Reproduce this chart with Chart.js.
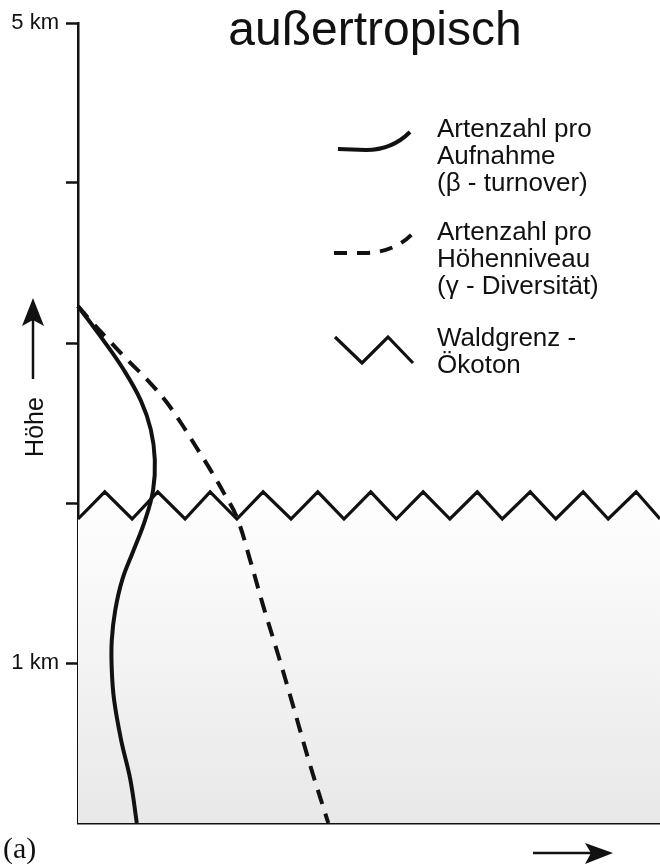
<!DOCTYPE html>
<html lang="de">
<head>
    <meta charset="UTF-8">
    <title>außertropisch</title>
    <script src="https://cdn.jsdelivr.net/npm/chart.js@4"></script>
    <style>
        * { margin: 0; padding: 0; }
        body { background: #fff; }
    </style>
</head>
<body>
<div style="position: relative; width: 660px; height: 868px"><canvas id="myChart" width="660" height="868"></canvas></div>
<script>
    // Höhe in km (y) und relative Artenzahl (x, 0..100)
    var betaHeight  = [3.23, 3.02, 2.83, 2.64, 2.46, 2.27, 2.08, 1.89, 1.70, 1.52, 1.33, 1.14, 0.96, 0.77, 0.52, 0.27, 0];
    var betaSpecies = [0, 4.3, 7.9, 10.8, 12.5, 13.2, 12.9, 11.5, 9.5, 7.6, 6.4, 5.8, 5.8, 6.2, 7.4, 9.0, 10.1];

    var gammaHeight  = [3.23, 3.13, 3.01, 2.89, 2.77, 2.64, 2.50, 2.35, 2.21, 2.06, 1.91, 1.64, 1.36, 1.05, 0.74, 0.36, 0];
    var gammaSpecies = [0, 2.4, 5.5, 8.6, 11.9, 15.0, 17.7, 20.3, 22.7, 25.1, 27.3, 29.6, 31.8, 34.4, 36.9, 39.9, 43.0];

    // Waldgrenz-Ökoton (Zickzack)
    var ecotoneX = [0, 4.6, 9.3, 13.7, 18.4, 22.7, 27.3, 31.8, 36.6, 41.2, 45.7, 50.3,
                    54.7, 59.3, 63.9, 68.6, 72.9, 77.7, 82.1, 86.8, 91.1, 95.9, 100];
    var ecotoneY = [1.9, 2.07, 1.9, 2.07, 1.9, 2.07, 1.9, 2.07, 1.9, 2.07, 1.9, 2.07,
                    1.9, 2.07, 1.9, 2.07, 1.9, 2.07, 1.9, 2.07, 1.9, 2.07, 1.9];

    var heightTicks  = [0, 1, 2, 3, 4, 5];
    var heightLabels = ['', '1 km', '', '', '', '5 km'];

    var titleText = 'außertropisch';
    var legendTexts = [
        ['Artenzahl pro', 'Aufnahme', '(β - turnover)'],
        ['Artenzahl pro', 'Höhenniveau', '(γ - Diversität)'],
        ['Waldgrenz -', 'Ökoton']
    ];

    function toPoints(xs, ys) {
        var pts = [];
        for (var i = 0; i < xs.length; i++) {
            pts.push({x: xs[i], y: ys[i]});
        }
        return pts;
    }

    var SANS = '"Liberation Sans", Arial, Helvetica, sans-serif';

    // Titel, Legende, Pfeile
    var decoPlugin = {
        id: 'deco',
        afterDraw: function (chart) {
            var c = chart.ctx;
            c.save();
            c.fillStyle = '#111';
            c.strokeStyle = '#111';

            c.font = '48px ' + SANS;
            c.textAlign = 'center';
            c.textBaseline = 'alphabetic';
            c.fillText(titleText, 375, 45);

            c.font = '26px ' + SANS;
            c.textAlign = 'left';
            var baselines = [[137, 164, 191], [240, 267, 294], [346, 373]];
            for (var g = 0; g < legendTexts.length; g++) {
                for (var l = 0; l < legendTexts[g].length; l++) {
                    c.fillText(legendTexts[g][l], 437, baselines[g][l]);
                }
            }

            c.lineCap = 'butt';
            c.lineJoin = 'miter';
            // Symbol: durchgezogen
            c.lineWidth = 4;
            c.beginPath();
            c.moveTo(338, 149);
            c.lineTo(366, 150);
            c.quadraticCurveTo(392, 150, 410, 132);
            c.stroke();
            // Symbol: gestrichelt
            c.setLineDash([13, 10]);
            c.beginPath();
            c.moveTo(334, 253);
            c.lineTo(366, 253);
            c.quadraticCurveTo(396, 252, 414, 232);
            c.stroke();
            c.setLineDash([]);
            // Symbol: Zickzack
            c.lineWidth = 3.2;
            c.beginPath();
            c.moveTo(335, 337);
            c.lineTo(362, 363);
            c.lineTo(388, 337);
            c.lineTo(413, 363);
            c.stroke();

            // Höhe mit Pfeil
            c.save();
            c.translate(43, 427);
            c.rotate(-Math.PI / 2);
            c.font = '25px ' + SANS;
            c.textAlign = 'center';
            c.fillText('Höhe', 0, 0);
            c.restore();
            c.lineWidth = 2.5;
            c.beginPath();
            c.moveTo(33, 379);
            c.lineTo(33, 318);
            c.stroke();
            c.beginPath();
            c.moveTo(33, 298);
            c.lineTo(44, 326);
            c.lineTo(33, 320);
            c.lineTo(22, 326);
            c.closePath();
            c.fill();

            // Pfeil unten
            c.beginPath();
            c.moveTo(533, 853);
            c.lineTo(595, 853);
            c.stroke();
            c.beginPath();
            c.moveTo(613, 853);
            c.lineTo(585, 843);
            c.lineTo(591, 853);
            c.lineTo(585, 864);
            c.closePath();
            c.fill();

            // (a)
            c.font = '30px "Liberation Serif", "Times New Roman", serif';
            c.textAlign = 'left';
            c.fillText('(a)', 3, 858);
            c.restore();
        }
    };

    var ctx = document.getElementById('myChart').getContext('2d');
    var myChart = new Chart(ctx, {
        type: 'scatter',
        data: {
            datasets: [{
                label: 'Artenzahl pro Aufnahme',
                data: toPoints(betaSpecies, betaHeight),
                showLine: true,
                borderColor: '#111',
                borderWidth: 4,
                pointRadius: 0,
                tension: 0.4,
                fill: false,
                clip: 4
            }, {
                label: 'Artenzahl pro Höhenniveau',
                data: toPoints(gammaSpecies, gammaHeight),
                showLine: true,
                borderColor: '#111',
                borderWidth: 4,
                borderDash: [15, 10],
                pointRadius: 0,
                tension: 0.4,
                fill: false,
                clip: 4
            }, {
                label: 'Waldgrenz - Ökoton',
                data: toPoints(ecotoneX, ecotoneY),
                showLine: true,
                borderColor: '#111',
                borderWidth: 3.2,
                pointRadius: 0,
                tension: 0,
                fill: 'origin',
                backgroundColor: function (context) {
                    var area = context.chart.chartArea;
                    if (!area) return '#f0f0f0';
                    var g = context.chart.ctx.createLinearGradient(0, area.top + area.height * 0.62, 0, area.bottom);
                    g.addColorStop(0, '#fdfdfd');
                    g.addColorStop(1, '#e8e8e8');
                    return g;
                },
                clip: 4
            }]
        },
        options: {
            responsive: false,
            animation: false,
            layout: {padding: {top: 23, right: 0, bottom: 45, left: 0}},
            plugins: {
                legend: {display: false},
                tooltip: {enabled: false},
                filler: {drawTime: 'beforeDatasetsDraw'}
            },
            scales: {
                x: {
                    min: 0,
                    max: 100,
                    ticks: {display: false},
                    grid: {display: false, drawTicks: false},
                    border: {display: true, color: '#111', width: 2.5},
                    afterFit: function (scale) { scale.height = 0; }
                },
                y: {
                    min: 0,
                    max: 5,
                    afterBuildTicks: function (scale) {
                        scale.ticks = heightTicks.map(function (v) { return {value: v}; });
                    },
                    ticks: {
                        padding: 7,
                        color: '#111',
                        font: {family: SANS, size: 22},
                        callback: function (v) {
                            return heightLabels[heightTicks.indexOf(v)];
                        }
                    },
                    grid: {
                        drawOnChartArea: false,
                        tickLength: 12,
                        tickWidth: 2.5,
                        tickColor: function (c) { return c.tick && c.tick.value === 0 ? 'rgba(0,0,0,0)' : '#111'; }
                    },
                    border: {display: true, color: '#111', width: 2.5},
                    afterFit: function (scale) { scale.width = 78; }
                }
            }
        },
        plugins: [decoPlugin]
    });
</script>
</body>
</html>
